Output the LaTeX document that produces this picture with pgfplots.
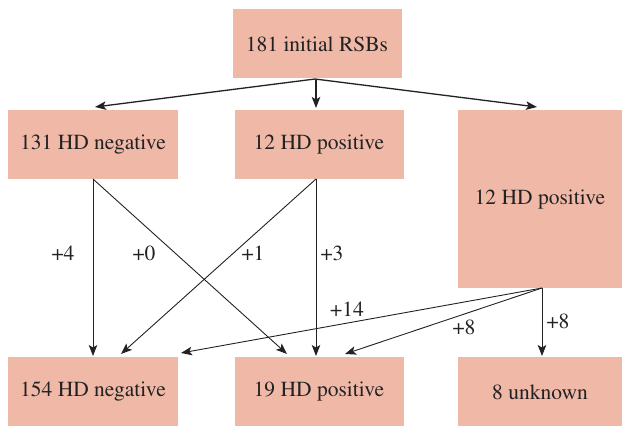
\documentclass[border=0pt]{standalone}
\usepackage{pgfplots}
\pgfplotsset{compat=1.18}
\usepackage[T1]{fontenc}
\usepackage{times}
\usetikzlibrary{arrows.meta}
\definecolor{boxc}{HTML}{F0B8A6}
\definecolor{txt}{HTML}{222222}
\tikzset{lab/.style={font=\rmfamily\fontsize{21.5bp}{25bp}\selectfont, text=txt, inner sep=0pt},
  arr/.style={line width=0.9bp, txt, -{Stealth[length=11bp,width=8.5bp,inset=2.5bp]}}}
\begin{document}
\begin{tikzpicture}
\begin{axis}[
  width=624bp, height=427bp, scale only axis,
  xmin=0, xmax=624, ymin=0, ymax=427, y dir=reverse,
  axis lines=none, clip=false, ticks=none,
]
% boxes
\addplot[fill=boxc, draw=none] coordinates {(233,9) (402,9) (402,78) (233,78)} -- cycle;
\addplot[fill=boxc, draw=none] coordinates {(8,110) (178,110) (178,179) (8,179)} -- cycle;
\addplot[fill=boxc, draw=none] coordinates {(235,110) (404,110) (404,179) (235,179)} -- cycle;
\addplot[fill=boxc, draw=none] coordinates {(458,110) (622,110) (622,288) (458,288)} -- cycle;
\addplot[fill=boxc, draw=none] coordinates {(8,357) (178,357) (178,426) (8,426)} -- cycle;
\addplot[fill=boxc, draw=none] coordinates {(235,357) (404,357) (404,426) (235,426)} -- cycle;
\addplot[fill=boxc, draw=none] coordinates {(458,357) (622,357) (622,426) (458,426)} -- cycle;
% arrows
\addplot[arr, line width=1.3bp] coordinates {(315,79) (95,107)};
\addplot[arr, line width=1.3bp] coordinates {(316,79) (316,108)};
\addplot[arr, line width=1.3bp] coordinates {(315,79) (537,107)};
\addplot[arr] coordinates {(93,179) (93,356)};
\addplot[arr] coordinates {(93,179) (287,354)};
\addplot[arr] coordinates {(316,179) (121,354)};
\addplot[arr] coordinates {(316,179) (316,356)};
\addplot[arr] coordinates {(542,288) (181,353)};
\addplot[arr] coordinates {(542,288) (345,354)};
\addplot[arr] coordinates {(542,288) (542,356)};
% box texts
\node[lab] at (axis cs:317,44) {181 initial RSBs};
\node[lab] at (axis cs:93,145) {131 HD negative};
\node[lab] at (axis cs:319,145) {12 HD positive};
\node[lab] at (axis cs:540,200) {12 HD positive};
\node[lab] at (axis cs:93,392) {154 HD negative};
\node[lab] at (axis cs:319,392) {19 HD positive};
\node[lab] at (axis cs:540,392) {8 unknown};
% labels
\node[lab] at (axis cs:63,253) {+4};
\node[lab] at (axis cs:144,253) {+0};
\node[lab] at (axis cs:253,253) {+1};
\node[lab] at (axis cs:332,253) {+3};
\node[lab] at (axis cs:347,309) {+14};
\node[lab] at (axis cs:464,327) {+8};
\node[lab] at (axis cs:558,321) {+8};
\end{axis}
\pgfresetboundingbox
\path (current axis.south west) rectangle (current axis.north east);
\end{tikzpicture}
\end{document}
